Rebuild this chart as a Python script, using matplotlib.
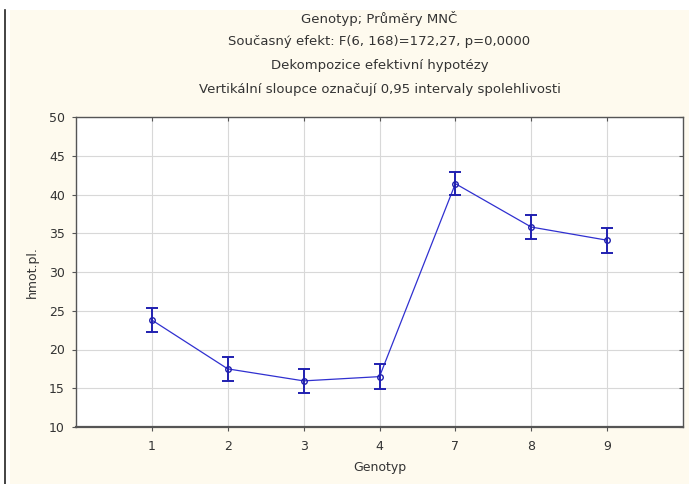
import matplotlib
matplotlib.use('Agg')
import matplotlib.pyplot as plt
from matplotlib.patches import Rectangle
from matplotlib.lines import Line2D

# Data
genotypes = ['1', '2', '3', '4', '7', '8', '9']
means = [23.8, 17.5, 15.95, 16.5, 41.4, 35.8, 34.1]
ci_half = [1.6, 1.55, 1.55, 1.6, 1.5, 1.55, 1.6]
title_lines = [
    'Genotyp; Průměry MNČ',
    'Současný efekt: F(6, 168)=172,27, p=0,0000',
    'Dekompozice efektivní hypotézy',
    'Vertikální sloupce označují 0,95 intervaly spolehlivosti',
]

plt.rcParams['font.family'] = ['DejaVu Sans']

W, H = 689, 484
fig = plt.figure(figsize=(W / 100, H / 100), dpi=100)
fig.patch.set_facecolor('white')

# cream panel and the dark line on the left
fig.add_artist(Rectangle((10 / W, 0), 1 - 10 / W, (H - 10) / H,
                         transform=fig.transFigure, facecolor='#fefaee',
                         edgecolor='none', zorder=0))
fig.add_artist(Line2D([4.5 / W, 4.5 / W], [0, (H - 10) / H],
                      transform=fig.transFigure, color='#222222', lw=1.2))

left, right, top, bottom = 76, 683, 117, 427
ax = fig.add_axes([left / W, (H - bottom) / H, (right - left) / W, (bottom - top) / H])
ax.set_facecolor('white')

x = list(range(1, len(genotypes) + 1))
ax.plot(x, means, color='#3030d0', lw=0.9, zorder=3)
ax.errorbar(x, means, yerr=ci_half, fmt='none', ecolor='#2020b0',
            elinewidth=1.4, capsize=4, capthick=1.4, zorder=4)
ax.plot(x, means, linestyle='none', marker='o', markersize=4,
        markerfacecolor='none', markeredgecolor='#2020b0', markeredgewidth=1.0, zorder=5)

ax.set_xlim(0, len(genotypes) + 1)
ax.set_ylim(10, 50)
ax.set_xticks(x)
ax.set_xticklabels(genotypes)
ax.set_yticks(range(10, 51, 5))

ax.grid(True, color='#d8d8d8', lw=0.8)
ax.set_axisbelow(True)

for s in ax.spines.values():
    s.set_color('#555555')
    s.set_linewidth(1.0)
ax.spines['bottom'].set_linewidth(1.6)

# outer ticks bottom/left, inner ticks top/right
ax.tick_params(axis='both', direction='out', length=3, color='#555555',
               labelsize=9, labelcolor='#333333', top=True, right=True)
ax.tick_params(axis='x', pad=6)
ax.tick_params(axis='y', pad=5)
for t in ax.xaxis.get_major_ticks():
    t.tick2line.set_marker(3)
for t in ax.yaxis.get_major_ticks():
    t.tick2line.set_marker(0)

ax.set_xlabel('Genotyp', fontsize=9, color='#333333', labelpad=6)
ax.set_ylabel('hmot.pl.', fontsize=9, color='#333333', labelpad=7)

cx = (left + right) / 2 / W
for i, line in enumerate(title_lines):
    ypix = 18 + i * 24
    fig.text(cx, 1 - ypix / H, line, ha='center', va='center',
             fontsize=9.5, color='#333333')

fig.savefig('out.png', dpi=100, facecolor=fig.get_facecolor())
